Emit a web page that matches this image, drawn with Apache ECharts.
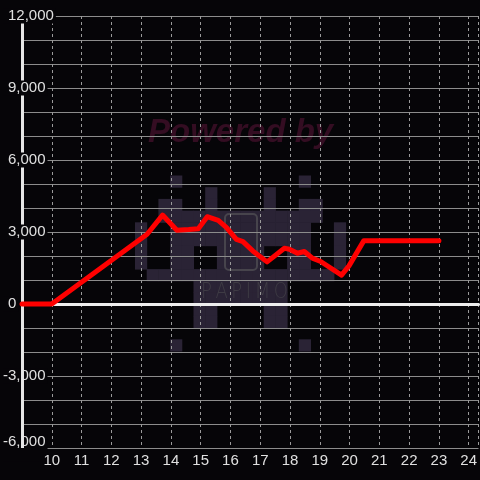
<!DOCTYPE html>
<html>
<head>
<meta charset="utf-8">
<script src="https://cdn.jsdelivr.net/npm/echarts@6/dist/echarts.min.js"></script>
<style>
html,body{margin:0;padding:0;background:#060508;}
#c{width:480px;height:480px;}
</style>
</head>
<body>
<div id="c"></div>
<script>
// Data: hour of day vs value
const hours  = [9, 10, 13.2, 13.72, 14.2, 14.6, 14.92, 15.22, 15.59, 15.87, 16.2, 16.42, 16.75, 17.23, 17.81, 17.98, 18.25, 18.48, 18.75, 19.03, 19.73, 19.98, 20.48, 23.0];
const values = [0, 0, 2905, 3705, 3071, 3100, 3139, 3638, 3485, 3181, 2697, 2600, 2212, 1755, 2323, 2282, 2116, 2187, 1909, 1771, 1203, 1589, 2640, 2640];
const yTicks = [-6000, -3000, 0, 3000, 6000, 9000, 12000];
const xTicks = [10, 11, 12, 13, 14, 15, 16, 17, 18, 19, 20, 21, 22, 23, 24];
const xMin = 9, xMax = 24.33, yMin = -6000, yMax = 12000;

const BG = '#060508';
const FONT = '"Liberation Sans", Arial';
const chart = echarts.init(document.getElementById('c'), null, {renderer: 'canvas'});

function fmt(v) {
  const s = Math.abs(v).toString().replace(/\B(?=(\d{3})+(?!\d))/g, ',');
  return (v < 0 ? '-' : '') + s;
}

// watermark logo (decorative)
const cell = 11.7, ox = 135, oy = 175.5;
const leftPattern = [
  [0, [3]], [1, [6]], [2, [2, 3, 6]], [3, [2, 3, 4, 5, 6, 7, 8]],
  [4, [0, 3, 4, 5, 6, 7, 8]], [5, [0, 3, 4, 5, 6, 7, 8]],
  [6, [0, 3, 4, 7, 8]], [7, [0, 3, 4, 7, 8]],
  [8, [1, 2, 3, 4, 5, 6, 7, 8]], [9, [5, 6, 7, 8]], [10, [5, 6, 7, 8]],
  [11, [5, 6]], [12, [5, 6]], [14, [3]]
];
const logo = [];
leftPattern.forEach(([r, cols]) => {
  cols.forEach(c => {
    [c, 17 - c].forEach(cc => {
      logo.push({type: 'rect', z: -10, silent: true,
        shape: {x: ox + cc * cell, y: oy + r * cell, width: cell + 0.5, height: cell + 0.5},
        style: {fill: '#2a2335'}});
    });
  });
});
logo.push({type: 'rect', z: -9, silent: true,
  shape: {x: 225, y: 214, width: 32, height: 56, r: 4},
  style: {fill: 'none', stroke: '#47444c', lineWidth: 2}});
logo.push({type: 'text', z: -9, silent: true, left: 201, top: 282, scaleY: 1.2,
  style: {text: 'P\u2009A\u2009P\u2009I\u2009M\u2009O', fill: '#3e3b44', font: '200 18px "DejaVu Sans"'}});
logo.push({type: 'text', z: -9, silent: true, left: 148, top: 116,
  style: {text: 'Powered by', fill: '#340d22', font: 'italic bold 33px "Liberation Sans", Arial'}});

const labelBase = {color: '#e0e0e0', fontSize: 15, fontFamily: FONT, backgroundColor: BG, lineHeight: 15};

chart.setOption({
  backgroundColor: BG,
  animation: false,
  graphic: logo,
  grid: {left: 20.7, right: 0, top: 16, bottom: 32, containLabel: false},
  xAxis: [{
    type: 'value', min: xMin, max: xMax, interval: 1, position: 'bottom',
    axisLine: {show: false, onZero: false},
    axisTick: {show: false},
    axisLabel: {color: '#e0e0e0', fontSize: 15, fontFamily: FONT, margin: 5,
      showMinLabel: false, showMaxLabel: false,
      formatter: v => xTicks.indexOf(v) >= 0 ? String(v) : ''},
    splitLine: {show: true, lineStyle: {color: '#9a9a9a', width: 1, type: [3, 3]}}
  }, {
    type: 'value', min: xMin, max: xMax, interval: 1, position: 'top',
    axisLine: {show: true, onZero: true, lineStyle: {color: '#eeeeee', width: 3}},
    axisTick: {show: false}, axisLabel: {show: false}, splitLine: {show: false}
  }],
  yAxis: {
    type: 'value', min: yMin, max: yMax, interval: 3000,
    axisLine: {show: true, onZero: false, lineStyle: {color: '#e6e6e6', width: 3}},
    axisTick: {show: false},
    minorTick: {show: false, splitNumber: 3},
    minorSplitLine: {show: true, lineStyle: {color: '#8c8c8c', width: 1}},
    splitLine: {show: true, lineStyle: {color: '#8c8c8c', width: 1}},
    axisLabel: {
      align: 'left', margin: 19,
      formatter: v => {
        if (yTicks.indexOf(v) < 0) return '';
        if (v === yMin) return '{b|' + fmt(v) + '}';
        return v < 0 ? '{n|' + fmt(v) + '}' : '{p|' + fmt(v) + '}';
      },
      rich: {
        n: Object.assign({}, labelBase, {padding: [0, 2, 0, 0]}),
        b: Object.assign({}, labelBase, {padding: [0, 2, 12, 0]}),
        p: Object.assign({}, labelBase, {padding: [0, 2, 0, 5]})
      }
    }
  },
  series: [{
    type: 'line', xAxisIndex: 0,
    data: hours.map((h, i) => [h, values[i]]),
    showSymbol: false, symbol: 'none',
    lineStyle: {color: '#ff0000', width: 5, join: 'round', cap: 'round'},
    z: 5,
    markLine: {
      silent: true, symbol: 'none', label: {show: false}, animation: false,
      lineStyle: {color: '#e6e6e6', width: 3, type: 'solid'},
      data: [[{coord: [xMin, yMin]}, {coord: [xMin, 0]}]]
    }
  }]
});
</script>
</body>
</html>
